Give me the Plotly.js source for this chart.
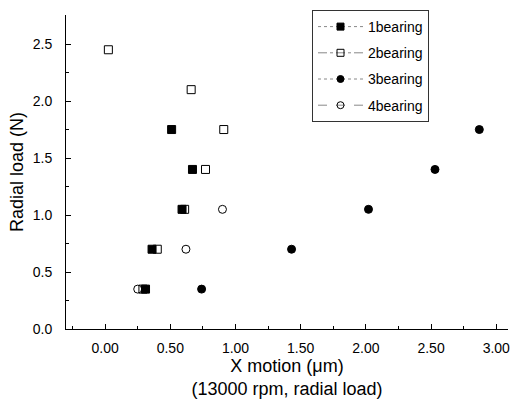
<!DOCTYPE html>
<html>
<head>
<meta charset="utf-8">
<script src="https://cdn.plot.ly/plotly-3.0.1.min.js"></script>
<style>html,body{margin:0;padding:0;background:#fff;}#plot{width:513px;height:409px;}</style>
</head>
<body>
<div id="plot"></div>
<script>
var seriesNames = ["1bearing", "2bearing", "3bearing", "4bearing"];
var x1 = [0.31, 0.36, 0.59, 0.67, 0.51];
var y1 = [0.35, 0.7, 1.05, 1.4, 1.75];
var x2 = [0.29, 0.40, 0.61, 0.77, 0.91, 0.66, 0.025];
var y2 = [0.35, 0.7, 1.05, 1.4, 1.75, 2.1, 2.45];
var x3 = [0.74, 1.43, 2.02, 2.53, 2.87];
var y3 = [0.35, 0.7, 1.05, 1.4, 1.75];
var x4 = [0.25, 0.62, 0.90];
var y4 = [0.35, 0.7, 1.05];

var symbols = ["square", "square-open", "circle", "circle-open"];
var dashes = ["dot", "dashdot", "dot", "dash"];
var xs = [x1, x2, x3, x4];
var ys = [y1, y2, y3, y4];

var traces = [];
for (var i = 0; i < 4; i++) {
  traces.push({
    x: xs[i], y: ys[i], type: "scatter", mode: "markers",
    showlegend: false, legendgroup: "g" + i,
    marker: {symbol: symbols[i], size: 8, color: "#000", line: {color: "#000", width: 1}},
    cliponaxis: false
  });
}
for (var i = 0; i < 4; i++) {
  traces.push({
    x: [null], y: [null], type: "scatter", mode: "lines+markers",
    name: seriesNames[i], legendgroup: "g" + i,
    line: {color: "#888", width: 1, dash: dashes[i]},
    marker: {symbol: symbols[i], size: 7, color: "#000", line: {color: "#000", width: 1}}
  });
}

var font = "Liberation Sans, Arial, sans-serif";
var pw = 513 - 66 - 5, ph = 409 - 15 - 80;
var layout = {
  width: 513, height: 409,
  margin: {l: 66, r: 5, t: 15, b: 80},
  paper_bgcolor: "#fff", plot_bgcolor: "#fff",
  font: {family: font, color: "#000", size: 14},
  showlegend: true,
  legend: {
    x: (312 - 66) / pw, y: 1 - (10 - 15) / ph, xanchor: "left", yanchor: "top",
    bgcolor: "#fff", bordercolor: "#333", borderwidth: 1,
    font: {family: font, size: 14, color: "#000"},
    traceorder: "grouped", tracegroupgap: 5, itemwidth: 45
  },
  xaxis: {
    range: [-0.3, 3.09], showgrid: false, zeroline: false,
    showline: true, linecolor: "#000", linewidth: 1, mirror: false,
    ticks: "inside", ticklen: 5, tickwidth: 1, tickcolor: "#000",
    dtick: 0.5, tick0: 0, tickformat: ".2f",
    tickfont: {family: font, size: 14},
    ticklabelstandoff: 6,
    minor: {ticks: "inside", ticklen: 3, dtick: 0.25, tick0: 0, tickcolor: "#000", showgrid: false},
    title: {text: "X motion (μm)<br>(13000 rpm, radial load)", font: {family: font, size: 18}, standoff: 2}
  },
  yaxis: {
    range: [0, 2.755], showgrid: false, zeroline: false,
    showline: true, linecolor: "#000", linewidth: 1, mirror: false,
    ticks: "inside", ticklen: 5, tickwidth: 1, tickcolor: "#000",
    dtick: 0.5, tick0: 0, tickformat: ".1f",
    tickfont: {family: font, size: 14},
    ticklabelstandoff: 10,
    minor: {ticks: "inside", ticklen: 3, dtick: 0.25, tick0: 0, tickcolor: "#000", showgrid: false},
    title: {text: "Radial load (N)", font: {family: font, size: 18}, standoff: 4}
  }
};

Plotly.newPlot("plot", traces, layout, {displayModeBar: false, staticPlot: true});
</script>
</body>
</html>
